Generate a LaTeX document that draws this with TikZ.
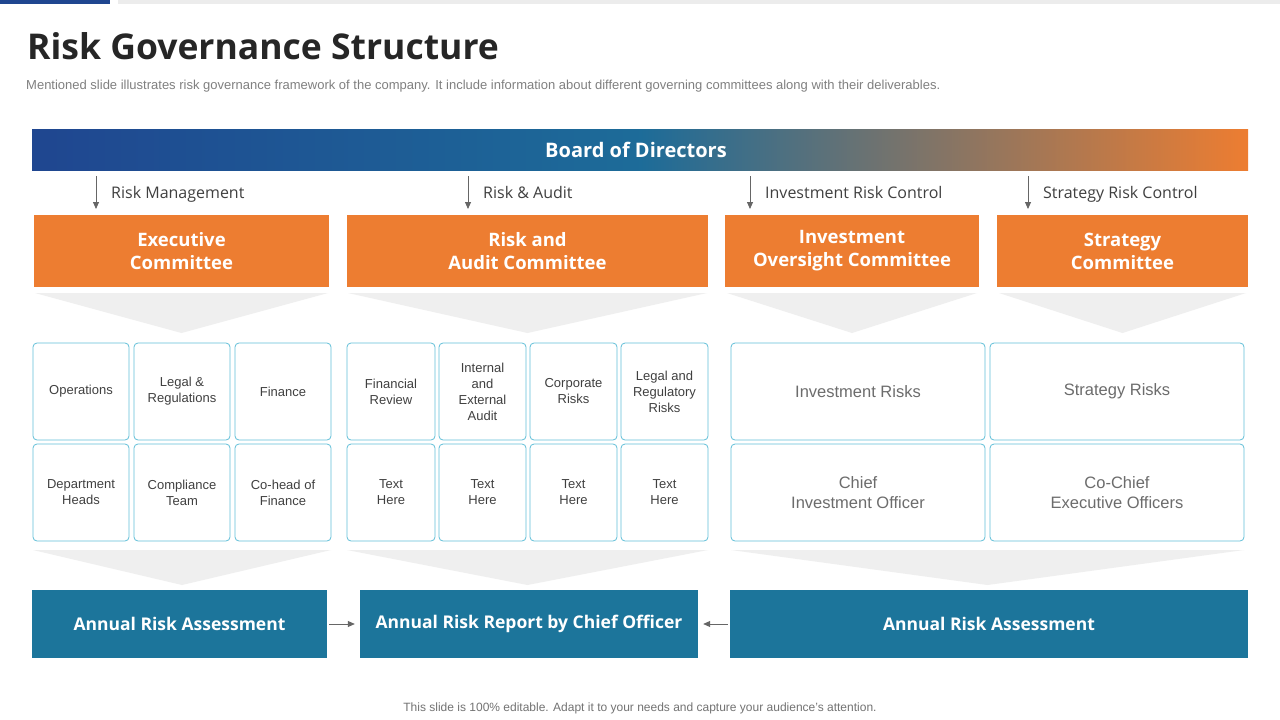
\documentclass[tikz,border=0pt]{standalone}
\usepackage{fontspec}
\setmainfont{Liberation Sans}
\newfontfamily\headfont{Open Sans}
\usetikzlibrary{arrows.meta}
\begin{document}
\begin{tikzpicture}[x=1pt,y=-1pt]
\definecolor{dblue}{HTML}{1F4690}
\definecolor{orng}{HTML}{ED7D31}
\definecolor{teal}{HTML}{1C759B}
\definecolor{cellb}{HTML}{62BFD8}
\definecolor{chev}{HTML}{EFEFEF}
\definecolor{txt}{HTML}{404040}
\tikzset{
 obox/.style={fill=orng,draw=none,text=white,font=\headfont\bfseries\fontsize{18.5}{23}\selectfont,align=center,inner sep=0},
 tbox/.style={fill=teal,draw=none,text=white,font=\headfont\bfseries\fontsize{17.5}{21}\selectfont,align=center,inner sep=0},
 cell/.style={draw=cellb,line width=0.8pt,rounded corners=4pt,fill=white,text=txt,font=\fontsize{13}{16}\selectfont,align=center,inner sep=0},
 bigcell/.style={cell,text=gray!85!black,font=\fontsize{16.5}{19.5}\selectfont},
 lbl/.style={anchor=base west,text=black!75,font=\headfont\fontsize{16}{19}\selectfont},
 dn/.style={-{Triangle[length=7pt,width=6pt]},draw=gray!80!black,line width=0.8pt},
}
\useasboundingbox (0,0) rectangle (1280,720);
\fill[white] (0,0) rectangle (1280,720);
\fill[dblue] (0,0) rectangle (110,4);
\fill[gray!15] (118,0) rectangle (1280,4);
\node[anchor=west,text=black!85,font=\headfont\bfseries\fontsize{35.5}{40}\selectfont,inner sep=0] (title) at (27,46) {Risk Governance Structure};
\node[anchor=west,text=gray,font=\fontsize{13}{15}\selectfont,inner sep=0] (sub) at (26,86) {Mentioned slide illustrates risk governance  framework of the company. It include information about different governing  committees along with their deliverables.};
% board
\shade[left color=dblue,right color=orng,middle color=teal!80!dblue] (32,129) rectangle (1248,170);
\node[text=white,font=\headfont\bfseries\fontsize{20}{24}\selectfont] (board) at (636,150) {Board of Directors};
% arrows + labels
\foreach \x/\t/\n in {96/Risk Management/a,468/Risk \& Audit/b,750/Investment Risk Control/c,1028/Strategy Risk Control/d}{
  \coordinate (s\n) at (\x,176); \coordinate (e\n) at (\x,209);
  \draw[dn] (s\n) -- (e\n);
  \node[lbl,inner sep=0] (l\n) at (\x+15,198) {\t};
}
% orange boxes
\node[obox,minimum width=295,minimum height=72] (o1) at (181.5,251) {Executive\\Committee};
\node[obox,minimum width=361,minimum height=72] (o2) at (527.5,251) {Risk and\\Audit Committee};
\node[obox,minimum width=254,minimum height=72] (o3) at (852,251) {Investment\\Oversight Committee};
\node[obox,minimum width=251,minimum height=72] (o4) at (1122.5,251) {Strategy\\Committee};
% chevrons
\foreach \a/\b in {35/328,348/707,727/977,999/1246}{
  \fill[chev] (\a,293) -- (\b,293) -- ({(\a+\b)/2},333) -- cycle;}
\foreach \a/\b in {33/331,347/708,731/1244}{
  \fill[chev] (\a,550) -- (\b,550) -- ({(\a+\b)/2},585) -- cycle;}
% cells group 1
\foreach \a/\b/\t/\u/\n in {33/129/Operations/Department\\Heads/1,134/230/Legal \&\\Regulations/Compliance\\Team/2,235/331/Finance/Co-head of\\Finance/3}{
  \node[cell,minimum width=\b-\a,minimum height=97] (c1\n) at ({(\a+\b)/2},391.5) {\t};
  \node[cell,minimum width=\b-\a,minimum height=97] (d1\n) at ({(\a+\b)/2},492.5) {\u};
}
\foreach \a/\b/\t/\n in {347/435/Financial\\Review/1,439/526/Internal\\and\\External\\Audit/2,530/617/Corporate\\Risks/3,621/708/Legal and\\Regulatory\\Risks/4}{
  \node[cell,minimum width=\b-\a,minimum height=97] (c2\n) at ({(\a+\b)/2},391.5) {\t};
  \node[cell,minimum width=\b-\a,minimum height=97] (d2\n) at ({(\a+\b)/2},492.5) {Text\\Here};
}
\node[bigcell,minimum width=254,minimum height=97] (c31) at (858,391.5) {Investment Risks};
\node[bigcell,minimum width=254,minimum height=97] (c32) at (1117,391.5) {Strategy Risks};
\node[bigcell,minimum width=254,minimum height=97] (d31) at (858,492.5) {Chief\\Investment Officer};
\node[bigcell,minimum width=254,minimum height=97] (d32) at (1117,492.5) {Co-Chief\\Executive Officers};
% teal boxes
\node[tbox,minimum width=295,minimum height=68] (t1) at (179.5,624) {Annual Risk Assessment};
\node[tbox,minimum width=338,minimum height=68] (t2) at (529,624) {Annual Risk Report by Chief Officer};
\node[tbox,minimum width=518,minimum height=68] (t3) at (989,624) {Annual Risk Assessment};
\draw[dn,shorten <=2pt,shorten >=5pt] (t1) -- (t2);
\draw[dn,shorten <=2pt,shorten >=5pt] (t3) -- (t2);
\node[text=gray!90!black,font=\fontsize{12}{14}\selectfont] (foot) at (640,708) {This slide is 100\% editable. Adapt it to your needs and capture your audience's attention.};
\end{tikzpicture}
\end{document}
